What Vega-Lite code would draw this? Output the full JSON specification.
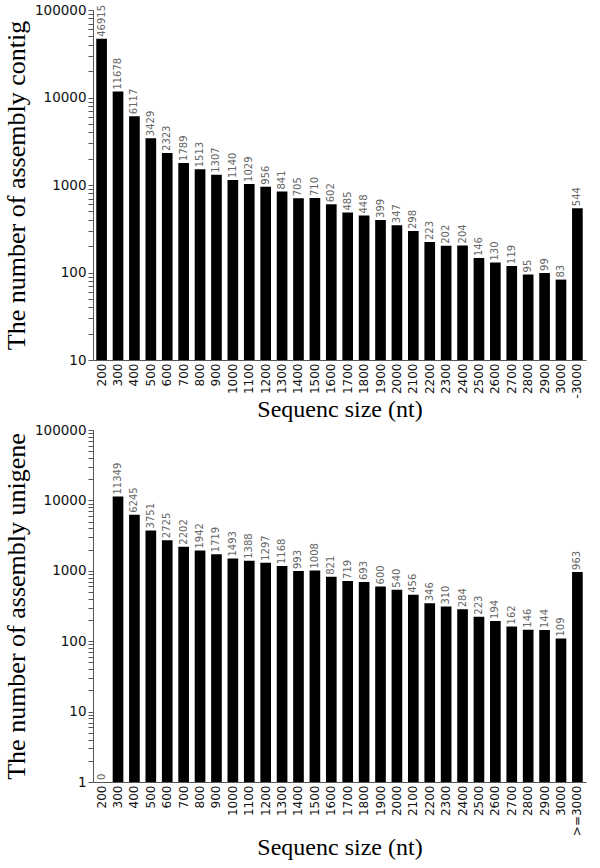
{
  "$schema": "https://vega.github.io/schema/vega-lite/v6.json",
  "padding": {"left": 3, "top": 3, "right": 5, "bottom": 5},
  "background": "white",
  "spacing": 1,
  "config": {
    "view": {"stroke": null},
    "axis": {
      "domainColor": "#555",
      "tickColor": "#555",
      "grid": false,
      "labelFont": "DejaVu Sans",
      "labelColor": "#111",
      "titleFont": "Liberation Serif",
      "titleFontWeight": "normal",
      "titleColor": "#000"
    }
  },
  "datasets": {
    "contig": [
      {"size": "200", "count": 46915},
      {"size": "300", "count": 11678},
      {"size": "400", "count": 6117},
      {"size": "500", "count": 3429},
      {"size": "600", "count": 2323},
      {"size": "700", "count": 1789},
      {"size": "800", "count": 1513},
      {"size": "900", "count": 1307},
      {"size": "1000", "count": 1140},
      {"size": "1100", "count": 1029},
      {"size": "1200", "count": 956},
      {"size": "1300", "count": 841},
      {"size": "1400", "count": 705},
      {"size": "1500", "count": 710},
      {"size": "1600", "count": 602},
      {"size": "1700", "count": 485},
      {"size": "1800", "count": 448},
      {"size": "1900", "count": 399},
      {"size": "2000", "count": 347},
      {"size": "2100", "count": 298},
      {"size": "2200", "count": 223},
      {"size": "2300", "count": 202},
      {"size": "2400", "count": 204},
      {"size": "2500", "count": 146},
      {"size": "2600", "count": 130},
      {"size": "2700", "count": 119},
      {"size": "2800", "count": 95},
      {"size": "2900", "count": 99},
      {"size": "3000", "count": 83},
      {"size": "-3000", "count": 544}
    ],
    "unigene": [
      {"size": "200", "count": 0},
      {"size": "300", "count": 11349},
      {"size": "400", "count": 6245},
      {"size": "500", "count": 3751},
      {"size": "600", "count": 2725},
      {"size": "700", "count": 2202},
      {"size": "800", "count": 1942},
      {"size": "900", "count": 1719},
      {"size": "1000", "count": 1493},
      {"size": "1100", "count": 1388},
      {"size": "1200", "count": 1297},
      {"size": "1300", "count": 1168},
      {"size": "1400", "count": 993},
      {"size": "1500", "count": 1008},
      {"size": "1600", "count": 821},
      {"size": "1700", "count": 719},
      {"size": "1800", "count": 693},
      {"size": "1900", "count": 600},
      {"size": "2000", "count": 540},
      {"size": "2100", "count": 456},
      {"size": "2200", "count": 346},
      {"size": "2300", "count": 310},
      {"size": "2400", "count": 284},
      {"size": "2500", "count": 223},
      {"size": "2600", "count": 194},
      {"size": "2700", "count": 162},
      {"size": "2800", "count": 146},
      {"size": "2900", "count": 144},
      {"size": "3000", "count": 109},
      {"size": ">=3000", "count": 963}
    ]
  },
  "vconcat": [
    {
      "width": 493,
      "height": 350,
      "data": {"name": "contig"},
      "encoding": {
        "x": {
          "field": "size", "type": "nominal", "sort": null,
          "scale": {"paddingInner": 0.35, "paddingOuter": 0.2},
          "axis": {"title": "Sequenc size (nt)", "titleFontSize": 24, "labelAngle": 270, "labelFontSize": 12, "ticks": false, "labelPadding": 3, "titlePadding": 0}
        }
      },
      "layer": [
        {
          "mark": {"type": "bar", "color": "#000"},
          "encoding": {
            "y": {
              "field": "count", "type": "quantitative",
              "scale": {"type": "log", "domain": [10, 100000]},
              "axis": {
                "title": "The number of assembly contig", "titleFontSize": 26, "titlePadding": 5,
                "labelFontSize": 13.5, "format": "d", "tickSize": 5,
                "values": [10,20,30,40,50,60,70,80,90,100,200,300,400,500,600,700,800,900,1000,2000,3000,4000,5000,6000,7000,8000,9000,10000,20000,30000,40000,50000,60000,70000,80000,90000,100000],
                "labelExpr": "indexof(['10','100','1000','10000','100000'], datum.label) >= 0 ? datum.label : ''"
              }
            },
            "y2": {"datum": 10}
          }
        },
        {
          "mark": {"type": "text", "angle": 270, "align": "left", "baseline": "middle", "dx": 2, "fontSize": 10, "color": "#666", "font": "DejaVu Sans"},
          "encoding": {
            "y": {"field": "count", "type": "quantitative"},
            "text": {"field": "count", "type": "quantitative", "format": "d"}
          }
        }
      ]
    },
    {
      "width": 493,
      "height": 352,
      "data": {"name": "unigene"},
      "encoding": {
        "x": {
          "field": "size", "type": "nominal",
          "sort": ["200","300","400","500","600","700","800","900","1000","1100","1200","1300","1400","1500","1600","1700","1800","1900","2000","2100","2200","2300","2400","2500","2600","2700","2800","2900","3000",">=3000"],
          "scale": {"paddingInner": 0.35, "paddingOuter": 0.2},
          "axis": {"title": "Sequenc size (nt)", "titleFontSize": 24, "labelAngle": 270, "labelFontSize": 12, "ticks": false, "labelPadding": 3, "titlePadding": 0}
        }
      },
      "layer": [
        {
          "transform": [{"filter": "datum.count > 0"}],
          "mark": {"type": "bar", "color": "#000"},
          "encoding": {
            "y": {
              "field": "count", "type": "quantitative",
              "scale": {"type": "log", "domain": [1, 100000]},
              "axis": {
                "title": "The number of assembly unigene", "titleFontSize": 26, "titlePadding": 5,
                "labelFontSize": 13.5, "format": "d", "tickSize": 5,
                "values": [1,2,3,4,5,6,7,8,9,10,20,30,40,50,60,70,80,90,100,200,300,400,500,600,700,800,900,1000,2000,3000,4000,5000,6000,7000,8000,9000,10000,20000,30000,40000,50000,60000,70000,80000,90000,100000],
                "labelExpr": "indexof(['1','10','100','1000','10000','100000'], datum.label) >= 0 ? datum.label : ''"
              }
            },
            "y2": {"datum": 1}
          }
        },
        {
          "transform": [{"calculate": "max(datum.count, 1)", "as": "labelPos"}],
          "mark": {"type": "text", "angle": 270, "align": "left", "baseline": "middle", "dx": 2, "fontSize": 10, "color": "#666", "font": "DejaVu Sans"},
          "encoding": {
            "y": {"field": "labelPos", "type": "quantitative"},
            "text": {"field": "count", "type": "quantitative", "format": "d"}
          }
        }
      ]
    }
  ]
}
